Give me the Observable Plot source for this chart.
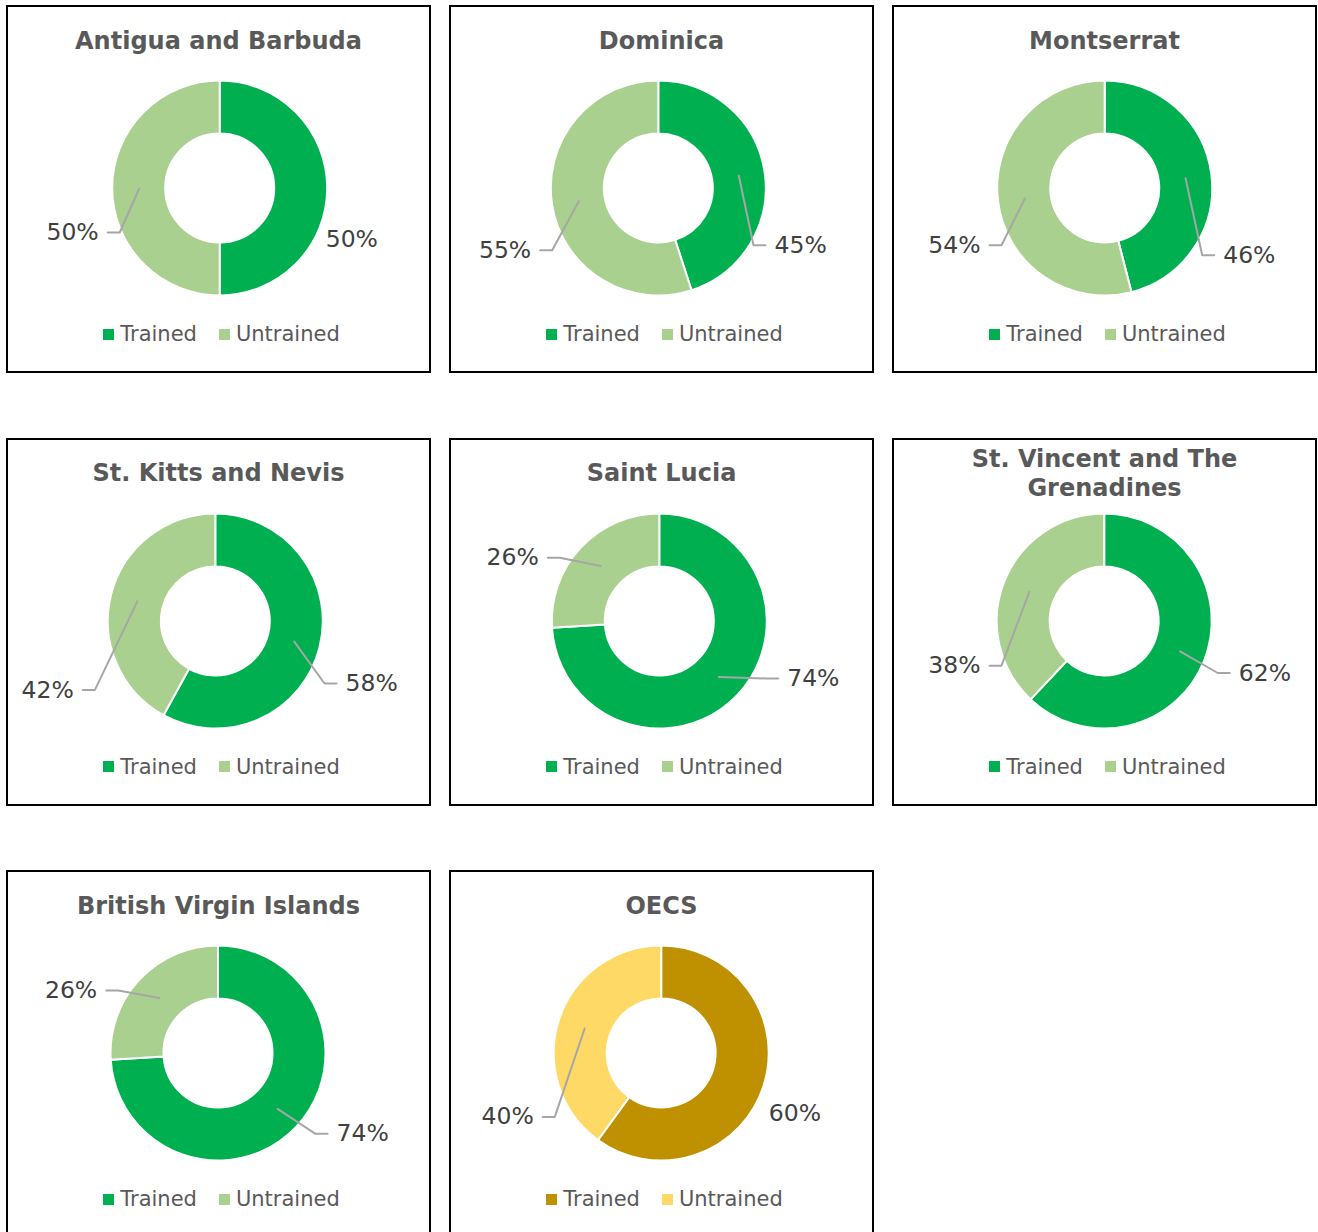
<!DOCTYPE html>
<html>
<head>
<meta charset="utf-8">
<script src="https://cdn.jsdelivr.net/npm/d3@7"></script>
<script src="https://cdn.jsdelivr.net/npm/@observablehq/plot@0.6"></script>
<style>
  html, body { margin: 0; padding: 0; background: #fff; }
  body { width: 1318px; height: 1232px; position: relative; overflow: hidden; font-family: "DejaVu Sans", Verdana, sans-serif; }
  .panel { position: absolute; width: 425px; height: 368px; border: 2px solid #000; box-sizing: border-box; background: #fff; }
  .title { position: absolute; left: 0; right: 0; top: 6px; height: 56px; display: flex; align-items: center; justify-content: center; text-align: center; font-weight: bold; font-size: 24px; line-height: 28.5px; color: #595959; padding: 0 30px; z-index: 2; }
  .chart { position: absolute; left: 0; top: 31px; }
  .legend { position: absolute; left: 6px; right: 0; top: 315px; height: 24px; display: flex; justify-content: center; align-items: center; z-index: 2; }
  .legend > div { margin: 0 !important; min-height: 0 !important; }
  .legend svg { margin-right: 6px !important; }
  .legend [class$="-swatch"] { margin-right: 22px !important; }
  .legend [class$="-swatch"]:last-child { margin-right: 0 !important; }
</style>
</head>
<body>
<script>
// ---------------- data ----------------
const countries = [
  "Antigua and Barbuda", "Dominica", "Montserrat",
  "St. Kitts and Nevis", "Saint Lucia", "St. Vincent and The Grenadines",
  "British Virgin Islands", "OECS"
];
const categories = ["Trained", "Untrained"];
const trainedPct   = [50, 45, 46, 58, 74, 62, 74, 60];
const untrainedPct = [50, 55, 54, 42, 26, 38, 26, 40];

// colour palettes (green for countries, gold for OECS)
const greenPalette = ["#00B050", "#A9D08E"];
const goldPalette  = ["#BF9000", "#FFD966"];
const panelPalette = ["green", "green", "green", "green", "green", "green", "green", "gold"];

// ---------------- layout (not data) ----------------
// label anchor offsets (px from donut centre) for [Trained, Untrained], and whether a leader line is drawn
const labelLayout = [
  [[105.5, 51, false], [-121.5, 44, true]],
  [[115.7, 56.7, true], [-127.6, 61.7, true]],
  [[118, 66.7, true], [-124.7, 56.7, true]],
  [[129.7, 62, true], [-142, 68.6, true]],
  [[127.4, 57, true], [-121, -63.7, true]],
  [[134.1, 51.5, true], [-124.2, 44.2, true]],
  [[118, 80.3, true], [-121.3, -63, true]],
  [[107.1, 60, false], [-127.9, 63.4, true]]
];
const centerShift = [1.2, -3.2, 0.2, -3.2, -2.2, -0.3, -0.5, -0.3];

const R_OUT = 107.5, R_IN = 54.5, R_MID = 81;
const PLOT_W = 421, PLOT_H = 300;
const LEADER_GAP = 9, LEADER_LEN = 12;

function donutMark(slices, colorScale) {
  return (index, scales, values, dimensions) => {
    const cx = scales.x ? scales.x(0) : dimensions.width / 2;
    const cy = scales.y ? scales.y(0) : dimensions.height / 2;
    const k = scales.x ? Math.abs(scales.x(1) - scales.x(0)) : 1;
    const arc = d3.arc().innerRadius(R_IN * k).outerRadius(R_OUT * k);
    const g = d3.create("svg:g").attr("transform", `translate(${cx},${cy})`);
    g.selectAll("path")
      .data(slices)
      .join("path")
      .attr("d", arc)
      .attr("fill", d => colorScale.apply(d.data.category))
      .attr("stroke", "#fff")
      .attr("stroke-width", 2)
      .attr("stroke-linejoin", "round");
    return g.node();
  };
}

countries.forEach((name, i) => {
  const col = i % 3, row = Math.floor(i / 3);
  const panel = document.createElement("div");
  panel.className = "panel";
  panel.style.left = (6 + col * 443) + "px";
  panel.style.top = (5 + row * 432.5) + "px";
  document.body.appendChild(panel);

  const title = document.createElement("div");
  title.className = "title";
  title.textContent = name;
  panel.appendChild(title);

  const range = panelPalette[i] === "gold" ? goldPalette : greenPalette;
  const colorScale = Plot.scale({color: {type: "ordinal", domain: categories, range}});

  const rows = [
    {category: categories[0], value: trainedPct[i]},
    {category: categories[1], value: untrainedPct[i]}
  ];
  const slices = d3.pie().sort(null).value(d => d.value)(rows);

  const labels = [];
  const leaders = [];
  slices.forEach((s, j) => {
    const [tx, ty, hasLeader] = labelLayout[i][j];
    const sign = tx >= 0 ? 1 : -1;
    const mid = (s.startAngle + s.endAngle) / 2;
    labels.push({x: tx, y: ty, text: s.data.value + "%", anchor: sign > 0 ? "start" : "end"});
    if (hasLeader) {
      const id = s.data.category;
      leaders.push({id, x: R_MID * Math.sin(mid), y: -R_MID * Math.cos(mid)});
      leaders.push({id, x: tx - sign * (LEADER_GAP + LEADER_LEN), y: ty});
      leaders.push({id, x: tx - sign * LEADER_GAP, y: ty});
    }
  });

  const half = PLOT_W / 2, shift = centerShift[i];
  const chart = Plot.plot({
    width: PLOT_W,
    height: PLOT_H,
    margin: 0,
    x: {domain: [-half - shift, half - shift], axis: null},
    y: {domain: [-PLOT_H / 2, PLOT_H / 2], reverse: true, axis: null},
    style: {background: "transparent", overflow: "visible"},
    marks: [
      donutMark(slices, colorScale),
      Plot.line(leaders, {x: "x", y: "y", z: "id", stroke: "#A6A6A6", strokeWidth: 2, curve: "linear"}),
      Plot.text(labels, {filter: d => d.anchor === "start", x: "x", y: "y", text: "text", textAnchor: "start",
        fontSize: 23.5, fontFamily: "DejaVu Sans", fill: "#404040"}),
      Plot.text(labels, {filter: d => d.anchor === "end", x: "x", y: "y", text: "text", textAnchor: "end",
        fontSize: 23.5, fontFamily: "DejaVu Sans", fill: "#404040"})
    ]
  });
  const chartWrap = document.createElement("div");
  chartWrap.className = "chart";
  chartWrap.appendChild(chart);
  panel.appendChild(chartWrap);

  const legendWrap = document.createElement("div");
  legendWrap.className = "legend";
  const legend = Plot.legend({
    color: {type: "ordinal", domain: categories, range},
    swatchSize: 11,
    className: "lg",
    style: {fontFamily: "DejaVu Sans", fontSize: "21px", color: "#595959", margin: "0", minHeight: "0"}
  });
  legendWrap.appendChild(legend);
  panel.appendChild(legendWrap);
});
</script>
</body>
</html>
